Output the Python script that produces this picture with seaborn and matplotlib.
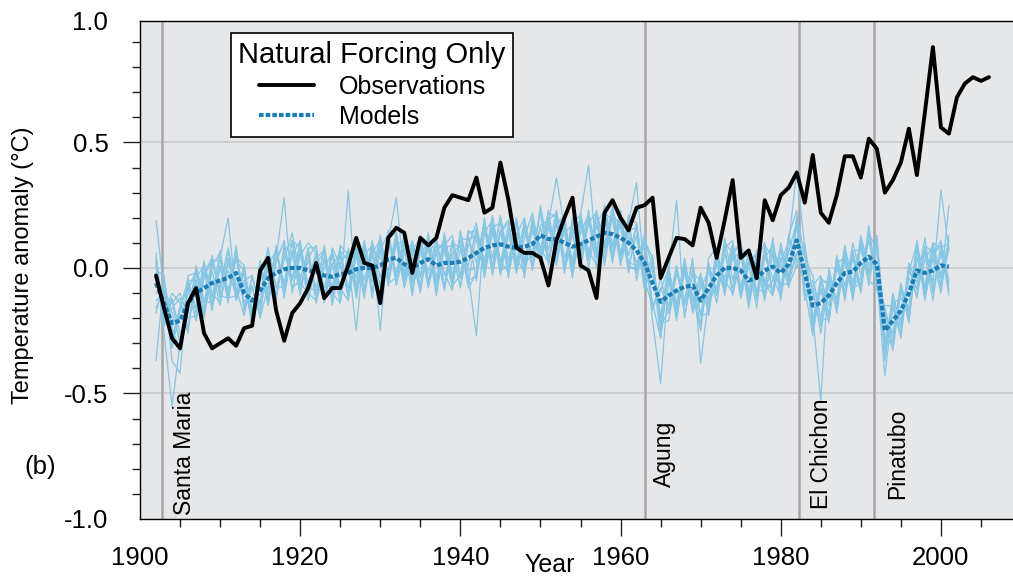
import numpy as np
import pandas as pd
import matplotlib
matplotlib.use("Agg")
import matplotlib.pyplot as plt
import seaborn as sns

obs_years = np.arange(1902, 2007)
obs_anomaly = [
    -0.03, -0.16, -0.28, -0.32, -0.14, -0.08, -0.26, -0.32, -0.30, -0.28,
    -0.31, -0.24, -0.23, -0.01, 0.04, -0.17, -0.29, -0.18, -0.14, -0.08,
    0.02, -0.12, -0.08, -0.08, 0.01, 0.12, 0.02, 0.01, -0.14, 0.12,
    0.16, 0.14, -0.02, 0.12, 0.09, 0.12, 0.24, 0.29, 0.28, 0.27,
    0.36, 0.22, 0.24, 0.42, 0.27, 0.08, 0.06, 0.06, 0.04, -0.07,
    0.11, 0.20, 0.28, 0.01, -0.01, -0.12, 0.22, 0.27, 0.20, 0.15,
    0.24, 0.25, 0.28, -0.04, 0.04, 0.12, 0.115, 0.09, 0.24, 0.18,
    0.04, 0.19, 0.35, 0.04, 0.07, -0.04, 0.27, 0.19, 0.29, 0.32,
    0.38, 0.26, 0.45, 0.22, 0.18, 0.29, 0.445, 0.445, 0.36, 0.515,
    0.475, 0.30, 0.35, 0.42, 0.555, 0.37, 0.62, 0.88, 0.56, 0.535,
    0.68, 0.735, 0.76, 0.745, 0.76,
]

# ensemble mean of the natural-forcing runs
model_years = np.arange(1902, 2002)
model_mean = [
    -0.06, -0.14, -0.22, -0.21, -0.14, -0.10, -0.08, -0.06, -0.05, -0.04,
    -0.02, -0.10, -0.13, -0.09, -0.04, -0.02, -0.005, 0.0, 0.0, -0.01,
    -0.015, -0.03, -0.035, -0.025, -0.02, -0.005, 0.0, 0.0, 0.01, 0.035,
    0.04, 0.015, 0.0, 0.02, 0.035, 0.01, 0.02, 0.02, 0.025, 0.04,
    0.06, 0.08, 0.09, 0.094, 0.085, 0.08, 0.085, 0.095, 0.13, 0.115,
    0.115, 0.10, 0.085, 0.095, 0.11, 0.125, 0.14, 0.135, 0.12, 0.10,
    0.07, 0.02, -0.06, -0.135, -0.11, -0.09, -0.075, -0.07, -0.13, -0.08,
    -0.03, 0.0, 0.0, -0.01, -0.05, -0.04, -0.01, 0.005, -0.02, 0.015,
    0.11, -0.02, -0.15, -0.14, -0.11, -0.06, -0.02, -0.015, 0.02, 0.045,
    0.015, -0.25, -0.21, -0.17, -0.10, -0.01, -0.02, -0.01, 0.01, 0.005,
]

# individual model runs, hundredths of a degree (1902-2001)
run_01 = [19, -9, -30, -15, -18, 0, -14, 2, -8, 8, -7, -2, -23, -5, 8, -8, 3, 14, -4, 6,
          -14, 0, 6, -9, 3, -9, 6, -3, 13, -4, 13, -5, 4, -10, 10, 11, -3, 5, -7, 12,
          2, 18, 1, 15, -3, 13, 20, 4, 16, 3, 18, 0, 16, 6, 23, 5, 19, 2, 21, 12,
          2, 10, -21, -46, -5, -19, 1, -11, -25, 2, -11, 12, -5, 8, -15, 0, -13, 7, 1, -4,
          19, -8, -27, -4, -15, 3, -10, 10, -3, 11, -5, -33, -11, -23, 2, -6, 12, -10, 7, -9]
run_02 = [-37, -4, -24, -33, -6, -16, 3, -15, 0, -11, 8, -14, -7, -20, -7, 7, -7, 5, 11, -9,
          5, -13, 8, 1, -10, 10, -5, 9, -13, 10, -2, 13, -9, 9, -8, 6, 11, -6, 7, 1,
          16, -4, 14, 2, 17, 4, -2, 18, 7, 23, 3, 17, 3, 21, 3, 22, 10, 20, 1, 15,
          16, -4, -1, -22, -21, -2, -14, 4, -38, -12, 7, -7, 8, -12, 1, 6, -5, -9, 10, -3,
          5, 9, -10, -23, -3, -18, 4, -9, 12, 1, 11, -21, -33, -9, -16, 9, -10, 4, -10, 13]
run_03 = [2, -26, -55, -30, -8, -21, -4, 4, -12, -1, -11, -5, -3, -15, 3, -13, 9, -5, 6, -13,
          2, 6, -11, 8, -12, 5, -12, 8, 4, -1, 14, -2, 8, -7, 9, -11, 9, 13, -3, 13,
          -5, 15, 0, 21, 3, 17, 1, 6, 23, 4, 17, 21, -2, 17, 5, 21, 1, 22, 16, 1,
          -1, 12, 0, -28, -2, 27, -20, 0, -19, 1, -9, 9, -11, 4, 5, -12, 5, -4, -11, 13,
          23, -11, -8, -26, -6, -12, 9, -6, 10, -5, -8, -19, -26, -6, -19, 3, 5, -13, 10, -5]
run_04 = [-10, -7, -37, -42, -5, -5, -18, 1, 6, -10, 4, 1, -20, 0, -14, 2, 11, -8, -5, 8,
          -11, 3, -8, 9, 5, -11, 4, -9, 7, 14, -4, 8, -11, 11, 7, -6, 14, -3, 11, -6,
          14, 3, 20, 0, 14, -2, 12, 22, 5, 18, 5, 14, 17, -1, 19, 7, 24, 5, 18, -2,
          18, -5, -15, -8, -15, 1, -19, -2, -5, -14, 4, -4, 10, -9, 7, -10, 8, -11, 3, 10,
          39, 8, -21, -9, -21, 1, -11, 4, -10, 14, 7, -36, -12, -21, -4, -11, 9, 6, -4, 9]
run_05 = [6, -23, -16, -12, -26, 1, -13, -14, 4, 20, -12, -6, -22, 2, -10, 8, -12, 7, -9, 4,
          9, -11, 2, -14, 7, -4, 10, -12, 9, -3, 9, 11, -6, 13, -6, 9, -2, -9, 15, -1,
          0, 19, -3, 14, 18, 0, 17, -1, 17, 19, 22, -2, 14, 19, 7, 1, 22, 19, 2, 21,
          -5, 11, -16, -9, 0, -16, -2, -16, -3, -13, -8, 8, 11, -10, 1, -16, 9, 4, -10, 11,
          2, 6, -19, -53, 0, -14, 3, -12, 11, -7, 13, -30, -29, -7, -22, 8, -8, 10, -3, 11]
run_06 = [-1, -3, -32, -17, -4, -18, -1, -17, 1, -13, 5, -16, -4, -14, 8, -11, 6, -4, 10, -8,
          -9, 9, -9, 5, -12, 6, -9, 11, -4, 13, -7, 6, 10, -3, 12, -8, 8, 9, -8, 9,
          18, -1, 15, -1, 1, 19, 3, 18, 1, 16, 6, 19, -3, 14, 21, 4, 21, 9, 23, 1,
          13, -9, 3, -24, -3, -14, 3, -13, -22, 4, 8, -9, 4, 6, -16, 5, -7, 10, -7, -6,
          6, 10, -24, -6, -5, -16, 7, -8, -6, 15, -4, -43, -16, -26, -2, 10, -12, 5, 9, -11]
run_07 = [-16, -8, -18, -29, -9, -1, -20, -1, -15, 4, -10, 0, -17, -1, -15, 4, 10, -9, 5, 10,
          6, -8, 5, -11, 31, -12, 7, -6, 11, -7, 11, -8, 5, 10, -2, 12, -7, 6, 9, -8,
          -2, 14, 19, -2, 15, 2, 19, 1, 25, 7, 23, 4, 13, 1, 18, 22, 3, 23, 5, 16,
          -2, 14, -17, -4, -18, -1, -13, 3, -19, -18, 2, -10, 7, 9, -11, 7, -10, -5, 8, -5,
          17, -10, -5, -21, -20, 5, -7, 6, -8, 17, -7, -15, -15, -28, -1, -8, 8, -6, 31, 7]
run_08 = [1, -23, -12, -26, -23, -4, 1, -12, 7, -14, 9, -17, -8, -19, 5, -7, -8, 11, -7, 3,
          -8, 7, -15, 2, 6, -7, 11, -4, -8, 11, 28, -3, 9, -9, 11, 6, -8, 11, -4, 15,
          11, -2, 16, 18, -4, 18, 2, 15, 4, 20, 1, 18, 1, 22, 6, 18, 23, 4, 19, 5,
          17, -6, 1, -19, 1, -20, 0, -17, -8, -1, -14, 6, -8, 11, -9, 3, 10, -10, 4, -8,
          21, 5, -26, -8, -18, 4, -13, 7, 7, -3, 10, -37, -14, -12, -18, 11, -8, 8, -7, 25]
run_09 = [-13, -10, -14, -10, -20, -19, -2, 4, -10, 7, -13, -2, -19, 1, -11, 9, -10, 6, -11, 8,
          8, -14, 1, 6, -8, 8, -10, 5, -7, 15, -5, 10, -4, 8, -7, 10, 7, -8, 14, -3,
          -27, 17, 4, 20, 0, 14, -4, 17, 7, 22, 20, 1, 20, 4, 20, 0, 20, 7, 22, 2,
          1, 9, -14, -28, -1, -15, 4, -18, -6, -17, 6, -5, -10, 7, 6, -13, 4, 9, -13, 8,
          0, 7, -22, -4, -7, -15, 8, -13, 9, -1, 12, -34, -10, -24, 0, -9, 3, 9, -8, 8]
run_10 = [4, -19, -10, -14, -24, -6, -19, 3, 3, -9, 3, -1, -24, -3, 4, -12, 7, 10, -6, -10,
          -13, 4, -13, 7, 3, -25, 9, -10, 7, -5, 10, -7, 11, -4, 14, -4, 10, -7, -3, 14,
          15, 2, 17, -3, 13, 19, -1, 20, 2, 18, 36, 16, -1, 20, 0, 17, 6, 25, 6, 20,
          18, -8, 3, -23, -17, 1, -15, -2, -24, 0, -10, 10, 6, -11, 4, -9, -9, 12, -8, 7,
          18, -13, -7, -3, -19, 0, -9, 7, -9, 15, -6, -17, -31, -8, -17, 9, -13, 5, 11, -7]
run_11 = [-18, -5, -28, -16, -7, -21, 2, -10, -14, 2, -8, -19, -3, -17, 1, 7, -6, 11, 8, -11,
          4, 7, -10, -14, 8, -9, 5, 9, -25, 12, 14, -4, 7, 12, -5, 7, -9, 10, 8, -5,
          -3, 20, -1, 15, 19, -1, 15, 4, 22, 1, 19, -1, 18, 21, 41, 6, 25, 9, 20, 0,
          0, 11, 4, -21, -3, -21, 1, -13, -4, -19, 5, -11, 9, -7, 2, 6, -12, 6, -9, 13,
          3, 8, -21, -5, -22, 2, 4, -11, 13, -2, 8, -29, -13, -27, 1, -12, 7, -8, 6, -9]
run_12 = [3, -21, -13, -31, -3, -2, -17, 5, -11, -12, -11, 1, -21, 3, -13, 4, 28, -10, 9, -7,
          7, -12, 7, -8, -13, 9, -8, 6, 11, -6, -4, 13, -9, 6, 10, -9, 13, -4, 12, 11,
          13, 0, 21, 3, -2, 20, 0, 19, 8, 2, 21, 15, -4, 18, 4, 23, 8, 24, 3, 18,
          34, -4, 5, -25, -2, -17, 2, -16, -2, -15, 7, -9, 5, 10, -13, 2, -6, -11, 7, -7,
          1, 4, -3, -20, -2, -17, 6, -7, -4, 14, -9, -16, -28, -9, -21, 5, -11, 10, 8, 10]

volcano_names = ["Santa Maria", "Agung", "El Chichon", "Pinatubo"]
volcano_years = [1902.7, 1963.1, 1982.3, 1991.7]

runs = [run_01, run_02, run_03, run_04, run_05, run_06,
        run_07, run_08, run_09, run_10, run_11, run_12]
runs_df = pd.DataFrame({
    "year": np.tile(model_years, len(runs)),
    "anomaly": np.concatenate([np.array(r) / 100.0 for r in runs]),
    "run": np.repeat(np.arange(len(runs)), len(model_years)),
})
obs_df = pd.DataFrame({"year": obs_years, "anomaly": obs_anomaly})
mean_df = pd.DataFrame({"year": model_years, "anomaly": model_mean})

sns.set_style("ticks")
plt.rcParams["font.family"] = ["Liberation Sans", "DejaVu Sans"]
plt.rcParams["axes.unicode_minus"] = False
plt.rcParams["text.color"] = "black"
plt.rcParams["axes.labelcolor"] = "black"
plt.rcParams["xtick.color"] = "black"
plt.rcParams["ytick.color"] = "black"

fig = plt.figure(figsize=(10.13, 5.78), dpi=100)
ax = fig.add_axes([0.1382, 0.1021, 0.8618, 0.8621])
ax.set_facecolor("#e6e7e8")

for yv in [-0.5, 0.0, 0.5]:
    ax.axhline(yv, color="#c9c9cb", lw=1.2, zorder=1)
for vy in volcano_years:
    ax.axvline(vy, color="#a6a6a8", lw=1.8, zorder=1.5)

sns.lineplot(data=runs_df, x="year", y="anomaly", units="run", estimator=None,
             color="#84c6e4", lw=0.9, ax=ax, legend=False, zorder=2)
sns.lineplot(data=obs_df, x="year", y="anomaly", color="black", lw=2.8,
             errorbar=None, ax=ax, label="Observations", zorder=4)
sns.lineplot(data=mean_df, x="year", y="anomaly", color="#1b7db5", lw=3.0,
             linestyle=(0, (1.1, 0.5)), errorbar=None, ax=ax, label="Models", zorder=3)

# volcano labels
label_x = {"Santa Maria": 1905.55, "Agung": 1965.5, "El Chichon": 1985.1, "Pinatubo": 1994.6}
label_y = {"Santa Maria": -0.985, "Agung": -0.874, "El Chichon": -0.959, "Pinatubo": -0.919}
for name in volcano_names:
    ax.text(label_x[name], label_y[name], name, rotation=90, ha="center", va="bottom",
            fontsize=16.5, color="black", zorder=5)

ax.set_xlim(1900, 2009)
ax.set_ylim(-1.0, 0.985)
ax.set_xticks(range(1900, 2001, 20))
ax.set_xticks(range(1905, 2009, 5), minor=True)
ax.set_yticks([-1.0, -0.5, 0.0, 0.5])
ax.set_yticks(np.arange(-0.9, 0.95, 0.1), minor=True)
ax.set_yticklabels(["-1.0", "-0.5", "0.0", "0.5"])
ax.tick_params(which="major", direction="out", length=12.5, width=1.0,
               labelsize=18.5, color="#222222")
ax.tick_params(which="minor", direction="out", length=6, width=1.0, color="#222222")
ax.tick_params(axis="y", which="major", pad=10)
ax.tick_params(axis="x", which="major", pad=7)
ax.xaxis.get_major_ticks()[0].tick1line.set_visible(False)
ax.yaxis.get_major_ticks()[0].tick1line.set_visible(False)
fig.text(108 / 1013, 1 - 22.7 / 578, "1.0", ha="right", va="center", fontsize=18.5)

for side in ["left", "bottom", "top"]:
    ax.spines[side].set_color("black")
    ax.spines[side].set_linewidth(1.0)
ax.spines["right"].set_visible(False)

ax.set_xlabel("Year", fontsize=18)
ax.set_ylabel("Temperature anomaly (°C)", fontsize=17)
ax.xaxis.set_label_coords(0.4697, -0.0915)
ax.xaxis.label.set_va("center")
ax.yaxis.set_label_coords(-0.134, 0.51)
ax.yaxis.label.set_va("center")
fig.text(40 / 1013, 1 - 467 / 578, "(b)", ha="center", va="center", fontsize=18.5)

leg = ax.legend(loc="upper left", bbox_to_anchor=(0.1042, 0.9753), borderaxespad=0,
                title="Natural Forcing Only", fontsize=18, title_fontsize=21,
                frameon=True, fancybox=False, edgecolor="black", facecolor="white",
                framealpha=1, handlelength=2.2, handletextpad=1.0, borderpad=0.3,
                labelspacing=0.25)
leg.get_frame().set_linewidth(1.2)
leg.set_zorder(10)

fig.savefig("out.png", dpi=100, facecolor="white")
